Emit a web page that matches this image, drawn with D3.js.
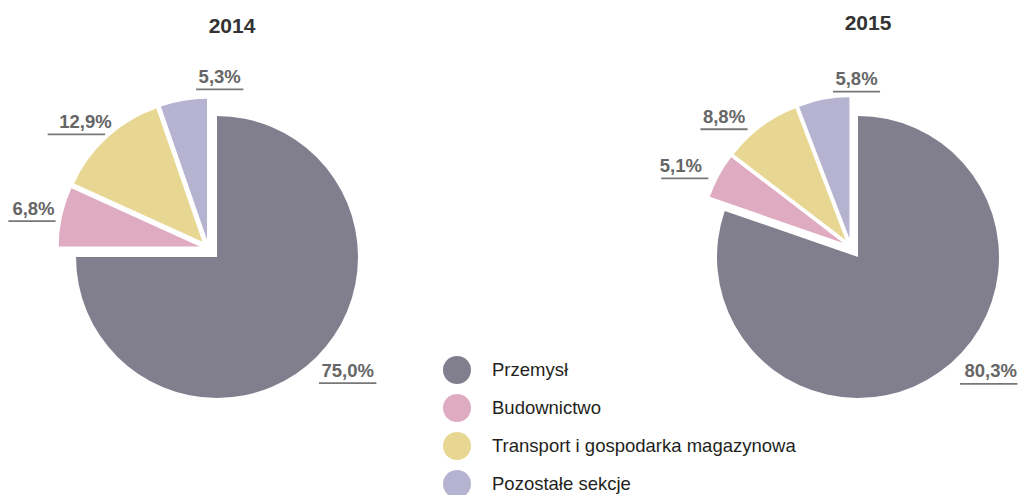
<!DOCTYPE html>
<html>
<head>
<meta charset="utf-8">
<script src="https://cdn.jsdelivr.net/npm/d3@7"></script>
<style>
  body { margin: 0; background: #fff; }
  svg { display: block; font-family: "Liberation Sans", Arial, sans-serif; }
</style>
</head>
<body>
<div id="chart"></div>
<script>
// --------------- Data ---------------
const categories = ["Przemysł", "Budownictwo", "Transport i gospodarka magazynowa", "Pozostałe sekcje"];
const years = ["2014", "2015"];
const values2014 = [75.0, 6.8, 12.9, 5.3];
const values2015 = [80.3, 5.1, 8.8, 5.8];
const colors = ["#817f8e", "#deabc0", "#e8d792", "#b6b3d0"];

// --------------- Layout ---------------
const WIDTH = 1020;
const HEIGHT = 495;
const RADIUS = 141;
const GROUP_PULL = 12;   // small slices pulled out together
const SLICE_PULL = 9;    // plus each one along its own bisector
const LABEL_R = 165;

const pies = [
  { year: years[0], values: values2014, cx: 217, cy: 257, titleX: 232, titleY: 33,
    // label nudges from the bisector anchor: dx, dy, underline shift
    nudge: [[14, 3, 0], [-5, 3, -1.5], [-6, 8, -9], [40, 6, 0]] },
  { year: years[1], values: values2015, cx: 858, cy: 257, titleX: 868, titleY: 30,
    nudge: [[37, -14, -2], [-17, 7, 4], [-23, 15, 0], [37, 9, 0]] }
];

const fmt = (v) => v.toFixed(1).replace(".", ",") + "%";

const svg = d3.select("#chart")
  .append("svg")
  .attr("width", WIDTH)
  .attr("height", HEIGHT);

const arc = d3.arc().innerRadius(0).outerRadius(RADIUS);
const dir = (a, d) => [Math.sin(a) * d, -Math.cos(a) * d];

function renderPie(p) {
  const slices = d3.pie().sort(null)(p.values);
  const groupStart = slices[1].startAngle;
  const groupMid = (groupStart + 2 * Math.PI) / 2;
  const g = svg.append("g").attr("transform", `translate(${p.cx},${p.cy})`);

  svg.append("text")
    .attr("x", p.titleX)
    .attr("y", p.titleY)
    .attr("text-anchor", "middle")
    .attr("font-size", 21)
    .attr("font-weight", "bold")
    .attr("fill", "#333")
    .text(p.year);

  slices.forEach((s, i) => {
    let off = [0, 0];
    if (i > 0) {
      const mid = (s.startAngle + s.endAngle) / 2;
      const a = dir(groupMid, GROUP_PULL);
      const b = dir(mid, SLICE_PULL);
      off = [a[0] + b[0], a[1] + b[1]];
    }
    g.append("path")
      .attr("d", arc(s))
      .attr("transform", `translate(${off[0]},${off[1]})`)
      .attr("fill", colors[i]);

    const mid = (s.startAngle + s.endAngle) / 2;
    const anchor = dir(mid, LABEL_R);
    const [dx, dy, ux] = p.nudge[i];
    const lx = off[0] + anchor[0] + dx;
    const ly = off[1] + anchor[1] + dy;

    const t = g.append("text")
      .attr("x", lx)
      .attr("y", ly)
      .attr("text-anchor", "middle")
      .attr("font-size", 18.5)
      .attr("font-weight", "bold")
      .attr("fill", "#666")
      .text(fmt(p.values[i]));
    const w = t.node().getComputedTextLength() + 5;
    g.append("line")
      .attr("x1", lx + ux - w / 2)
      .attr("x2", lx + ux + w / 2)
      .attr("y1", ly + 6.5)
      .attr("y2", ly + 6.5)
      .attr("stroke", "#777")
      .attr("stroke-width", 1.8);
  });
}

pies.forEach(renderPie);

// --------------- Legend ---------------
const legendY = d3.scalePoint().domain(categories).range([370, 484]);
const legend = svg.append("g")
  .selectAll("g")
  .data(categories)
  .enter()
  .append("g")
  .attr("transform", (d) => `translate(457,${legendY(d)})`);

legend.append("circle")
  .attr("r", 14)
  .attr("fill", (_d, i) => colors[i]);

legend.append("text")
  .attr("x", 35)
  .attr("y", 6)
  .attr("font-size", 18.5)
  .attr("fill", "#231f20")
  .text((d) => d);
</script>
</body>
</html>
